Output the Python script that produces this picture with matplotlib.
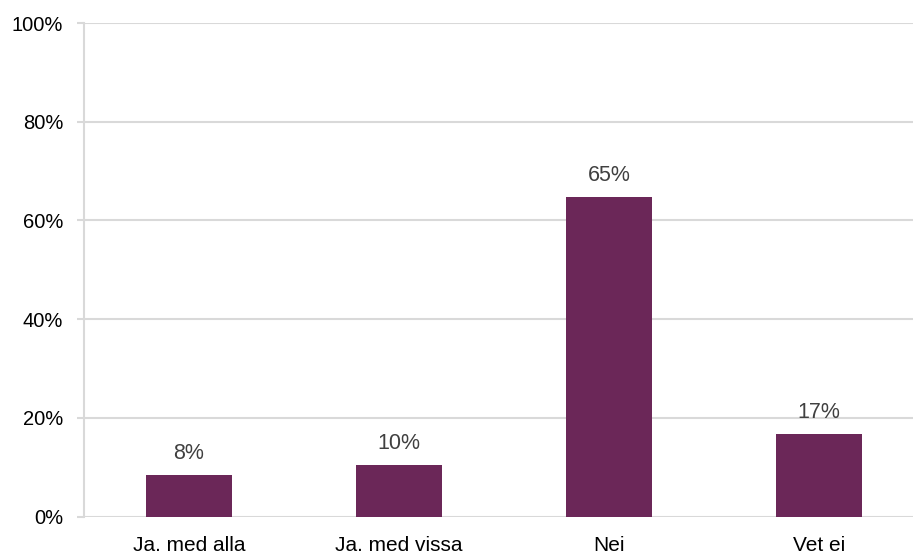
import matplotlib.pyplot as plt
import numpy as np

categories = ["Ja, med alla", "Ja, med vissa", "Nej", "Vet ej"]
values = [8.4, 10.4, 64.8, 16.7]
labels = ["8%", "10%", "65%", "17%"]
yticks = [0, 20, 40, 60, 80, 100]

plt.rcParams['font.family'] = ['Liberation Sans', 'DejaVu Sans']

fig = plt.figure(figsize=(9.13, 5.51), dpi=100)
# axes runs past the right edge of the picture, as in the reference
ax = fig.add_axes([84 / 913, (551 - 516.5) / 551, 840 / 913, 493.5 / 551])

x = np.arange(len(categories))
bars = ax.bar(x, values, width=0.405, color="#6B2758", zorder=3)

for b, lab in zip(bars, labels):
    ax.annotate(lab, (b.get_x() + b.get_width() / 2, b.get_height()),
                xytext=(0, 8), textcoords="offset points",
                ha="center", va="bottom", fontsize=15.5, color="#404040")

ax.set_xlim(-0.5, 3.5)
ax.set_ylim(0, 100)
ax.set_yticks(yticks)
ax.set_yticklabels([f"{t}%" for t in yticks])
ax.set_xticks(x)
ax.set_xticklabels(categories)

ax.grid(axis="y", color="#d9d9d9", linewidth=1.5, zorder=0)
for side in ["top", "right", "bottom"]:
    ax.spines[side].set_visible(False)
ax.spines["left"].set_color("#d9d9d9")
ax.spines["left"].set_linewidth(1.5)

ax.tick_params(axis="y", length=5, width=1.5, color="#d9d9d9", pad=10,
               labelsize=14.5, labelcolor="black")
ax.tick_params(axis="x", length=0, pad=14, labelsize=15, labelcolor="black")

fig.savefig("out.png", dpi=100)
